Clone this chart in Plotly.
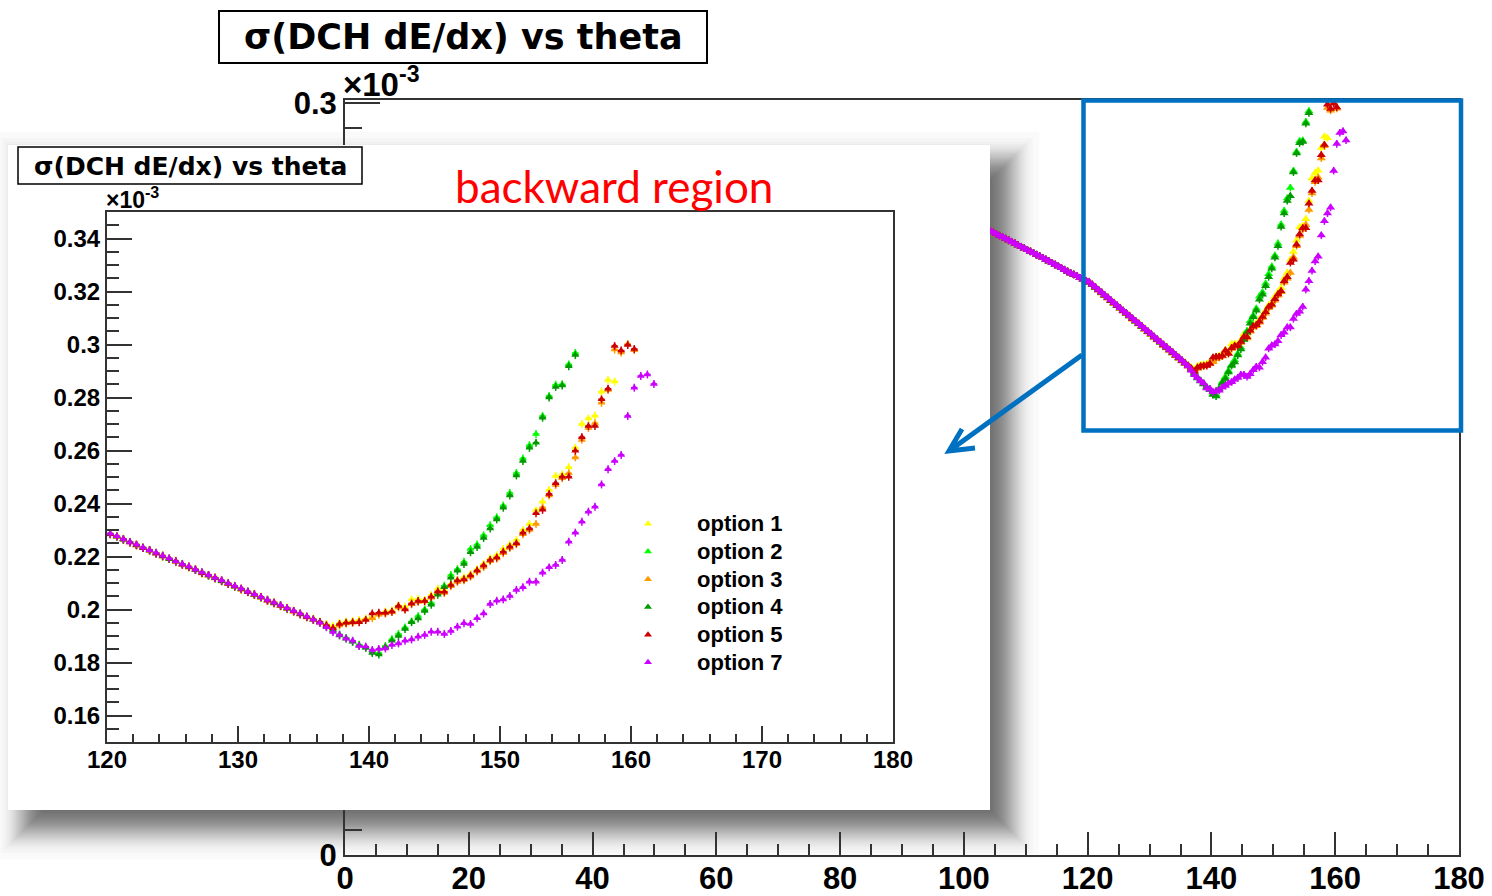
import plotly.graph_objects as go
from statistics import NormalDist

# canvas size in pixels
W, H = 1492, 896


def px(x):
    return x / W


def py(y):
    return 1 - y / H


# ---------------------------------------------------------------- data
# sigma(DCH dE/dx) in units of 1e-3, 0.5 degree theta bins
BIN_WIDTH = 0.5
THETA_FIRST = 104.25      # first bin centre of the shared forward part
SIGMA_ERR = 0.0015        # vertical error bar half-size

# 104.25 .. 119.75 deg, common to every option
sigma_fwd = [0.2490, 0.2484, 0.2478, 0.2471, 0.2465, 0.2459, 0.2452, 0.2446,
             0.2440, 0.2433, 0.2427, 0.2421, 0.2414, 0.2408, 0.2402, 0.2395,
             0.2389, 0.2382, 0.2376, 0.2369, 0.2362, 0.2356, 0.2349, 0.2342,
             0.2335, 0.2328, 0.2321, 0.2316, 0.2310, 0.2303, 0.2297, 0.2291]

# per option, starting at 120.25 deg
opt1 = [0.2288, 0.2277, 0.2268, 0.2256, 0.2247, 0.2235, 0.2226, 0.2214, 0.2205, 0.2193,
        0.2185, 0.2172, 0.2164, 0.2153, 0.2142, 0.2131, 0.2123, 0.2110, 0.2101, 0.2090,
        0.2080, 0.2069, 0.2060, 0.2049, 0.2038, 0.2029, 0.2017, 0.2008, 0.1996, 0.1987,
        0.1975, 0.1966, 0.1955, 0.1945, 0.1938,
        0.1950, 0.1955, 0.1957, 0.1960, 0.1966, 0.1972, 0.1985, 0.1992, 0.1997, 0.2015,
        0.2010, 0.2038, 0.2040, 0.2036, 0.2055, 0.2078, 0.2072, 0.2096, 0.2112, 0.2122,
        0.2134, 0.2152, 0.2172, 0.2193, 0.2205, 0.2228, 0.2245, 0.2262, 0.2300, 0.2323,
        0.2375, 0.2407, 0.2451, 0.2504, 0.2510, 0.2537, 0.2610, 0.2700, 0.2721, 0.2731,
        0.2822, 0.2866, 0.2860]

opt2 = [0.2286, 0.2274, 0.2266, 0.2255, 0.2242, 0.2234, 0.2222, 0.2213, 0.2200, 0.2192,
        0.2180, 0.2172, 0.2159, 0.2151, 0.2140, 0.2128, 0.2118, 0.2109, 0.2097, 0.2088,
        0.2076, 0.2068, 0.2055, 0.2047, 0.2034, 0.2026, 0.2014, 0.2005, 0.1993, 0.1984,
        0.1972, 0.1962, 0.1951, 0.1938, 0.1922,
        0.1906, 0.1893, 0.1879, 0.1867, 0.1855, 0.1840, 0.1836, 0.1862, 0.1888, 0.1908,
        0.1932, 0.1955, 0.1975, 0.2000, 0.2025, 0.2062, 0.2090, 0.2130, 0.2152, 0.2180,
        0.2228, 0.2245, 0.2280, 0.2318, 0.2348, 0.2392, 0.2440, 0.2515, 0.2570, 0.2620,
        0.2662, 0.2730, 0.2806, 0.2848, 0.2850, 0.2925, 0.2968]

opt3 = [0.2283, 0.2274, 0.2262, 0.2253, 0.2241, 0.2232, 0.2220, 0.2211, 0.2199, 0.2190,
        0.2178, 0.2170, 0.2158, 0.2149, 0.2136, 0.2127, 0.2117, 0.2106, 0.2096, 0.2085,
        0.2074, 0.2065, 0.2054, 0.2043, 0.2032, 0.2022, 0.2012, 0.2001, 0.1991, 0.1980,
        0.1970, 0.1960, 0.1949, 0.1938, 0.1930,
        0.1940, 0.1947, 0.1950, 0.1955, 0.1962, 0.1967, 0.1980, 0.1985, 0.1990, 0.2008,
        0.2002, 0.2020, 0.2028, 0.2030, 0.2044, 0.2064, 0.2062, 0.2088, 0.2104, 0.2110,
        0.2124, 0.2143, 0.2160, 0.2182, 0.2192, 0.2212, 0.2232, 0.2246, 0.2284, 0.2300,
        0.2323, 0.2385, 0.2430, 0.2470, 0.2495, 0.2514, 0.2574, 0.2640, 0.2685, 0.2703,
        0.2780, 0.2828, 0.2981, 0.2970, 0.3002, 0.2978]

opt4 = [0.2284, 0.2275, 0.2263, 0.2254, 0.2243, 0.2232, 0.2223, 0.2211, 0.2201, 0.2190,
        0.2181, 0.2170, 0.2160, 0.2149, 0.2139, 0.2128, 0.2118, 0.2107, 0.2098, 0.2086,
        0.2077, 0.2066, 0.2056, 0.2045, 0.2035, 0.2024, 0.2015, 0.2003, 0.1994, 0.1982,
        0.1973, 0.1962, 0.1952, 0.1936, 0.1920,
        0.1902, 0.1890, 0.1878, 0.1864, 0.1856, 0.1836, 0.1830, 0.1858, 0.1882, 0.1900,
        0.1926, 0.1952, 0.1966, 0.1994, 0.2018, 0.2056, 0.2084, 0.2120, 0.2146, 0.2172,
        0.2216, 0.2236, 0.2270, 0.2306, 0.2340, 0.2384, 0.2430, 0.2506, 0.2560, 0.2610,
        0.2629, 0.2724, 0.2800, 0.2840, 0.2845, 0.2918, 0.2960]

opt5 = [0.2285, 0.2276, 0.2265, 0.2253, 0.2244, 0.2232, 0.2224, 0.2211, 0.2203, 0.2192,
        0.2182, 0.2169, 0.2161, 0.2151, 0.2138, 0.2130, 0.2120, 0.2109, 0.2097, 0.2088,
        0.2078, 0.2066, 0.2057, 0.2047, 0.2034, 0.2026, 0.2014, 0.2005, 0.1993, 0.1984,
        0.1972, 0.1962, 0.1953, 0.1941, 0.1929,
        0.1945, 0.1950, 0.1952, 0.1952, 0.1960, 0.1985, 0.1988, 0.1988, 0.1992, 0.2013,
        0.2000, 0.2023, 0.2032, 0.2032, 0.2048, 0.2068, 0.2067, 0.2092, 0.2109, 0.2114,
        0.2128, 0.2147, 0.2166, 0.2187, 0.2196, 0.2218, 0.2237, 0.2250, 0.2290, 0.2306,
        0.2363, 0.2376, 0.2436, 0.2476, 0.2501, 0.2501, 0.2599, 0.2650, 0.2692, 0.2692,
        0.2793, 0.2833, 0.2994, 0.2977, 0.2998, 0.2983]

opt7 = [0.2287, 0.2276, 0.2266, 0.2255, 0.2245, 0.2234, 0.2224, 0.2214, 0.2203, 0.2193,
        0.2182, 0.2172, 0.2162, 0.2151, 0.2141, 0.2130, 0.2120, 0.2110, 0.2099, 0.2089,
        0.2079, 0.2068, 0.2058, 0.2047, 0.2037, 0.2026, 0.2016, 0.2006, 0.1995, 0.1985,
        0.1974, 0.1962, 0.1950, 0.1933, 0.1915,
        0.1904, 0.1891, 0.1882, 0.1862, 0.1860, 0.1847, 0.1851, 0.1853, 0.1866, 0.1872,
        0.1882, 0.1887, 0.1897, 0.1904, 0.1916, 0.1916, 0.1908, 0.1919, 0.1935, 0.1948,
        0.1945, 0.1967, 0.1985, 0.2021, 0.2033, 0.2038, 0.2051, 0.2074, 0.2084, 0.2105,
        0.2105, 0.2139, 0.2159, 0.2168, 0.2187, 0.2256, 0.2290, 0.2331, 0.2369, 0.2388,
        0.2472, 0.2529, 0.2560, 0.2583, 0.2730, 0.2837, 0.2881, 0.2887, 0.2851]

option_names = ["option 1", "option 2", "option 3", "option 4", "option 5", "option 7"]
option_values = [opt1, opt2, opt3, opt4, opt5, opt7]
option_colors = ["#ffff00", "#00ff00", "#ff9900", "#009900", "#cc0000", "#cc00ff"]

# ---------------------------------------------------------------- style
AX_COL = "#333333"
TICK_FONT_MAIN = dict(family="Liberation Sans", size=31, color="black", weight="bold")
TICK_FONT_INSET = dict(family="Liberation Sans", size=24, color="black", weight="bold")

fig = go.Figure()


def bin_centres(n):
    return [THETA_FIRST + BIN_WIDTH * i for i in range(n)]


for name, vals, col in zip(option_names, option_values, option_colors):
    sig = sigma_fwd + vals
    th = bin_centres(len(sig))
    errs = dict(
        error_x=dict(type="constant", value=BIN_WIDTH / 2, width=0, thickness=1.5, color=col),
        error_y=dict(type="constant", value=SIGMA_ERR, width=0, thickness=1.5, color=col),
    )
    # full-range view (background)
    fig.add_trace(go.Scatter(
        x=th, y=sig, mode="markers", xaxis="x", yaxis="y", showlegend=False,
        marker=dict(symbol="triangle-up", size=8, color=col, line=dict(width=0)),
        hoverinfo="skip", **errs))
    # zoomed backward-region view
    fig.add_trace(go.Scatter(
        x=th, y=sig, mode="markers", xaxis="x3", yaxis="y3", showlegend=True,
        name=f'<span style="font-size:22px">{name}</span>',
        marker=dict(symbol="triangle-up", size=7, color=col, line=dict(width=0)),
        hoverinfo="skip", **errs))

# empty panel that carries the zoomed view
fig.add_trace(go.Scatter(x=[], y=[], xaxis="x2", yaxis="y2", showlegend=False))

# soft drop shadow under the panel (stack of faint rectangles)
PANEL = (8, 145, 990, 810)
SH_OFF, SH_SIG, SH_N = 18, 14, 40
sh_alpha = 1 - 0.45 ** (1 / SH_N)
nd = NormalDist()
shapes = []
for i in range(SH_N):
    e = SH_SIG * nd.inv_cdf((i + 0.5) / SH_N)
    shapes.append(dict(
        type="rect", xref="paper", yref="paper", layer="below",
        x0=px(PANEL[0] + SH_OFF - e), x1=px(PANEL[2] + SH_OFF + e),
        y0=py(PANEL[3] + SH_OFF + e), y1=py(PANEL[1] + SH_OFF - e),
        fillcolor=f"rgba(0,0,0,{sh_alpha:.4f})", line=dict(width=0),
    ))

# title boxes
shapes.append(dict(type="rect", xref="paper", yref="paper", layer="above",
                   x0=px(219), x1=px(707), y0=py(63), y1=py(11),
                   fillcolor="white", line=dict(color="black", width=2)))
shapes.append(dict(type="rect", xref="paper", yref="paper", layer="above",
                   x0=px(18), x1=px(362), y0=py(184), y1=py(147),
                   fillcolor="white", line=dict(color="black", width=1.5)))

# blue highlight box and arrow
BLUE = "#0070c0"
shapes.append(dict(type="rect", xref="paper", yref="paper", layer="above",
                   x0=px(1083.5), x1=px(1461), y0=py(430.5), y1=py(100.5),
                   line=dict(color=BLUE, width=4.5)))


def pt(x, y):
    return f"{px(x):.5f},{py(y):.5f}"


arrow_path = (f"M {pt(1082, 355)} L {pt(949, 451)} "
              f"M {pt(962, 429)} L {pt(949, 451)} L {pt(975, 448)}")
shapes.append(dict(type="path", xref="paper", yref="paper", layer="above",
                   path=arrow_path, line=dict(color=BLUE, width=5)))

annotations = [
    dict(text="σ(DCH dE/dx) vs theta", x=px(463), y=py(37), xref="paper", yref="paper",
         showarrow=False, xanchor="center", yanchor="middle",
         font=dict(family="DejaVu Sans", size=35, color="black", weight="bold")),
    dict(text="σ(DCH dE/dx) vs theta", x=px(190), y=py(166), xref="paper", yref="paper",
         showarrow=False, xanchor="center", yanchor="middle",
         font=dict(family="DejaVu Sans", size=25, color="black", weight="bold")),
    dict(text="×10<sup>-3</sup>", x=px(341), y=py(82), xref="paper", yref="paper",
         showarrow=False, xanchor="left", yanchor="middle",
         font=dict(family="Liberation Sans", size=33, color="black", weight="bold")),
    dict(text="×10<sup>-3</sup>", x=px(104), y=py(198), xref="paper", yref="paper",
         showarrow=False, xanchor="left", yanchor="middle",
         font=dict(family="Liberation Sans", size=23, color="black", weight="bold")),
    dict(text="backward region", x=px(614), y=py(186), xref="paper", yref="paper",
         showarrow=False, xanchor="center", yanchor="middle",
         font=dict(family="Lato", size=44, color="#ff0000")),
]


def axis_style(**kw):
    base = dict(showgrid=False, zeroline=False, showline=True, linecolor=AX_COL,
                linewidth=2, mirror=True, ticks="inside", tickcolor=AX_COL, tickwidth=2,
                automargin=False)
    base.update(kw)
    return base


fig.update_layout(
    width=W, height=H, autosize=False,
    margin=dict(l=0, r=0, t=0, b=0, pad=0, autoexpand=False),
    paper_bgcolor="white", plot_bgcolor="white",
    showlegend=True,
    xaxis=axis_style(domain=[px(345), px(1459)], range=[0, 180], anchor="y",
                     tick0=0, dtick=20, ticklen=23, tickfont=TICK_FONT_MAIN,
                     ticklabelstandoff=-5,
                     minor=dict(dtick=5, tick0=0, ticklen=11, ticks="inside",
                                tickcolor=AX_COL, tickwidth=2)),
    yaxis=axis_style(domain=[py(855), py(100)], range=[0, 0.3012], anchor="x",
                     tick0=0, dtick=0.05, ticklen=35, tickfont=TICK_FONT_MAIN,
                     minor=dict(dtick=0.01, tick0=0, ticklen=17, ticks="inside",
                                tickcolor=AX_COL, tickwidth=2)),
    xaxis2=dict(domain=[px(PANEL[0]), px(PANEL[2])], range=[0, 1], anchor="y2",
                visible=False, fixedrange=True),
    yaxis2=dict(domain=[py(PANEL[3]), py(PANEL[1])], range=[0, 1], anchor="x2",
                visible=False, fixedrange=True),
    xaxis3=axis_style(domain=[px(107), px(893)], range=[120, 180], anchor="y3",
                      tick0=120, dtick=10, ticklen=16, tickfont=TICK_FONT_INSET,
                      ticklabelstandoff=-5,
                      minor=dict(dtick=2, tick0=120, ticklen=8, ticks="inside",
                                 tickcolor=AX_COL, tickwidth=2)),
    yaxis3=axis_style(domain=[py(742), py(212)], range=[0.15, 0.35], anchor="x3",
                      tick0=0.14, dtick=0.02, ticklen=25, tickfont=TICK_FONT_INSET,
                      minor=dict(dtick=0.005, tick0=0, ticklen=12, ticks="inside",
                                 tickcolor=AX_COL, tickwidth=2)),
    legend=dict(x=px(599), y=py(505), xanchor="left", yanchor="top",
                itemwidth=88, bgcolor="rgba(0,0,0,0)", borderwidth=0,
                font=dict(family="Liberation Sans", size=19, color="black", weight="bold")),
    shapes=shapes,
    annotations=annotations,
)

fig.write_html("out.html")
